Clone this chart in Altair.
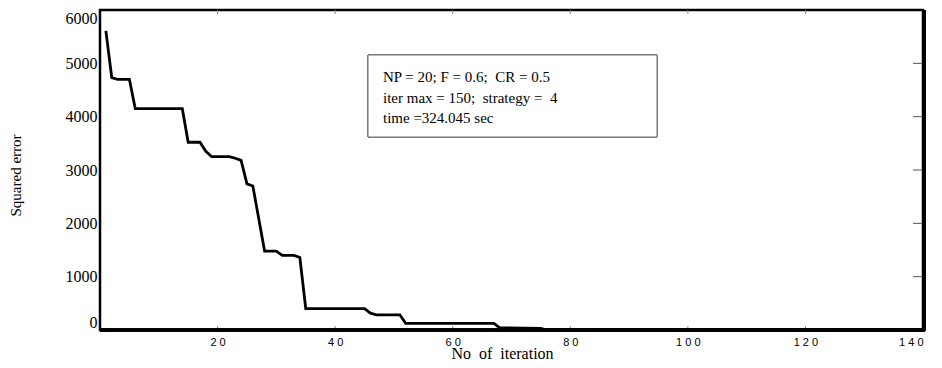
import altair as alt
import pandas as pd

# Convergence curve (iteration, squared error)
iters = [1, 2, 3, 5, 6, 14, 15, 17, 18, 19, 22, 23, 24, 25, 26, 28, 30, 31, 33, 34, 35,
         45, 46, 47, 51, 52, 67, 68, 75, 76, 140]
errors = [5610, 4730, 4700, 4700, 4150, 4150, 3520, 3520, 3350, 3250, 3250, 3220, 3180,
          2740, 2700, 1480, 1480, 1400, 1400, 1360, 400, 400, 315, 285, 285, 125, 125,
          40, 30, 0, 0]

x_ticks = [20, 40, 60, 80, 100, 120, 140]
y_ticks = [0, 1000, 2000, 3000, 4000, 5000, 6000]
inner_x_ticks = [20, 40, 60, 80, 100, 120]
inner_y_ticks = [1000, 2000, 3000, 4000, 5000]

NB = "\u00a0"
info_lines = ["NP = 20; F = 0.6; " + NB + "CR = 0.5",
              "iter max = 150; " + NB + "strategy = " + NB + "4",
              "time =324.045 sec"]
x_title = "No" + NB + " of" + NB + " iteration"

W, H = 823, 320

df = pd.DataFrame({"iter": iters, "err": errors})
xt = pd.DataFrame({"t": inner_x_ticks})
yt = pd.DataFrame({"t": inner_y_ticks})
info = pd.DataFrame({"txt": ["\n".join(info_lines)]})

xscale = alt.Scale(domain=[0, 140], nice=False, zero=False)
yscale = alt.Scale(domain=[0, 6000], nice=False)

line = alt.Chart(df).mark_line(color="black", strokeWidth=2.8, strokeJoin="miter").encode(
    x=alt.X("iter:Q", scale=xscale,
            axis=alt.Axis(values=x_ticks, title=x_title, grid=False,
                          domain=False, ticks=False,
                          labelExpr="join(split(datum.label, ''), ' ')",
                          labelFont="Liberation Sans", labelFontSize=11,
                          labelColor="black", labelPadding=6,
                          titleFont="Liberation Serif", titleFontSize=16,
                          titleFontWeight="normal", titleColor="black",
                          titleY=23, titleBaseline="middle", titleX=402)),
    y=alt.Y("err:Q", scale=yscale,
            axis=alt.Axis(values=y_ticks, title="Squared error", grid=False,
                          domain=False, ticks=False, labelFlush=True, format="d",
                          labelFont="Liberation Serif", labelFontSize=16,
                          labelColor="black", labelPadding=3,
                          titleFont="Liberation Serif", titleFontSize=15,
                          titleFontWeight="normal", titleColor="black",
                          titleX=-85, titleY=165, titleBaseline="middle",
                          titleAlign="center", titleAngle=-90)),
)

bottom_ticks = alt.Chart(xt).mark_rule(color="#888888", strokeWidth=1).encode(
    x=alt.X("t:Q", scale=xscale, axis=None), y=alt.value(H - 4), y2=alt.value(H))
top_ticks = alt.Chart(xt).mark_rule(color="#888888", strokeWidth=1).encode(
    x=alt.X("t:Q", scale=xscale, axis=None), y=alt.value(0), y2=alt.value(4))
right_ticks = alt.Chart(yt).mark_rule(color="#555555", strokeWidth=1).encode(
    y=alt.Y("t:Q", scale=yscale, axis=None), x=alt.value(W - 10), x2=alt.value(W))

right_border = alt.Chart(yt).mark_rule(color="black", strokeWidth=4).encode(
    x=alt.value(W + 1), y=alt.value(0), y2=alt.value(H + 1))
bottom_border = alt.Chart(yt).mark_rule(color="black", strokeWidth=3).encode(
    x=alt.value(0), x2=alt.value(W + 2), y=alt.value(H))

box = alt.Chart(yt).mark_rect(fill="white", stroke="#777777", strokeWidth=1).encode(
    x=alt.value(268), x2=alt.value(557), y=alt.value(45), y2=alt.value(127))

text = alt.Chart(info).mark_text(align="left", baseline="middle", font="Liberation Serif",
                                 fontSize=15, color="black", lineBreak="\n",
                                 lineHeight=20.5).encode(
    x=alt.value(283), y=alt.value(67), text="txt:N")

chart = alt.layer(line, bottom_ticks, top_ticks, right_ticks, box, text,
                  right_border, bottom_border).resolve_axis(
    x="independent", y="independent"
).properties(
    width=W, height=H,
    padding={"left": 100, "top": 10, "right": 19, "bottom": 38},
    autosize=alt.AutoSizeParams(type="none"),
    background="white",
).configure_view(stroke="black", strokeWidth=2.5)

chart.save("out.html", embed_options={"renderer": "svg", "actions": False})
